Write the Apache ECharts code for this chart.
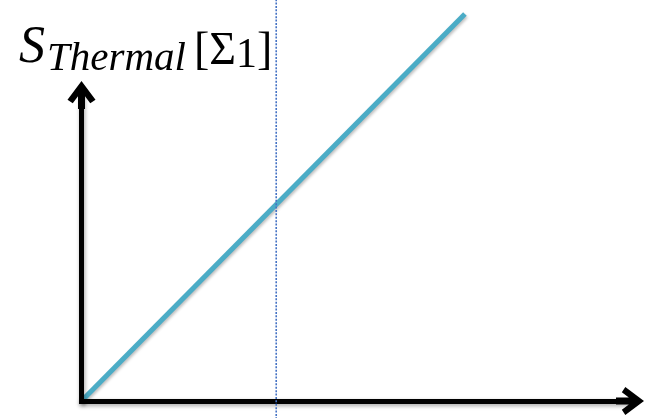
<!DOCTYPE html>
<html>
<head>
<meta charset="utf-8">
<script src="https://cdn.jsdelivr.net/npm/echarts@6/dist/echarts.min.js"></script>
<style>
  html, body { margin: 0; padding: 0; background: #fff; }
  #chart { width: 645px; height: 418px; }
</style>
</head>
<body>
<div id="chart"></div>
<script>
// Thermal entropy grows linearly with the variable on the horizontal axis.
const thermalX = [0, 69.9];
const thermalS = [0, 126.5];

// Vertical dotted reference line.
const markerX = [35.5, 35.5];
const markerY = [-6, 132];

// Axis ranges (no ticks or labels are shown).
const xRange = [0, 100];
const yRange = [0, 100];

// Open chevron arrowhead with a stem running back to the box centre,
// pointing "up" in its own 24x24 frame so the centre sits on the axis end.
const arrowPath = 'path://M12 0 L24 16 L19.5 19 L15 13 L15 24 L9 24 L9 13 L4.5 19 L0 16 Z';

const axisLineStyle = {
  color: '#000',
  width: 5,
  cap: 'square',
  shadowColor: 'rgba(0,0,0,0.35)',
  shadowBlur: 4,
  shadowOffsetX: 1,
  shadowOffsetY: 2
};

const serif = 'Liberation Serif';

const chart = echarts.init(document.getElementById('chart'), null, { renderer: 'canvas' });

chart.setOption({
  animation: false,
  backgroundColor: '#fff',
  title: {
    left: 14,
    top: 17,
    text: '{s|S}{sub|Thermal}{br|[Σ}{one|1}{br|]}',
    textStyle: {
      fontWeight: 'normal',
      rich: {
        s:   { fontFamily: serif, fontStyle: 'italic', fontWeight: 'normal', fontSize: 52, color: '#000', verticalAlign: 'bottom', padding: [0, 2, 6, 0] },
        sub: { fontFamily: serif, fontStyle: 'italic', fontWeight: 'normal', fontSize: 41, color: '#000', verticalAlign: 'bottom', padding: [0, 8, 0, 0] },
        br:  { fontFamily: serif, fontWeight: 'normal', fontSize: 46, color: '#000', verticalAlign: 'bottom', padding: [0, 0, 5, 0] },
        one: { fontFamily: serif, fontWeight: 'normal', fontSize: 42, color: '#000', verticalAlign: 'bottom', padding: [0, 0, 3, 0] }
      }
    }
  },
  grid: { left: 81.5, right: 15, top: 95, bottom: 17 },
  xAxis: {
    type: 'value',
    min: xRange[0],
    max: xRange[1],
    axisLine: {
      show: true,
      onZero: false,
      symbol: ['none', arrowPath],
      symbolSize: [28, 28],
      lineStyle: axisLineStyle
    },
    axisTick: { show: false },
    axisLabel: { show: false },
    splitLine: { show: false }
  },
  yAxis: {
    type: 'value',
    min: yRange[0],
    max: yRange[1],
    axisLine: {
      show: true,
      onZero: false,
      symbol: ['none', arrowPath],
      symbolSize: [28, 28],
      lineStyle: axisLineStyle
    },
    axisTick: { show: false },
    axisLabel: { show: false },
    splitLine: { show: false }
  },
  series: [
    {
      type: 'line',
      z: -1,
      clip: false,
      symbol: 'none',
      data: thermalX.map((x, i) => [x, thermalS[i]]),
      lineStyle: {
        color: '#4BACC6',
        width: 5,
        shadowColor: 'rgba(0,0,0,0.25)',
        shadowBlur: 3,
        shadowOffsetX: 1,
        shadowOffsetY: 2
      }
    },
    {
      type: 'line',
      z: 5,
      clip: false,
      symbol: 'none',
      data: markerX.map((x, i) => [x, markerY[i]]),
      lineStyle: { color: '#4472C4', width: 1.6, type: [2, 1.4] }
    }
  ]
});
</script>
</body>
</html>
